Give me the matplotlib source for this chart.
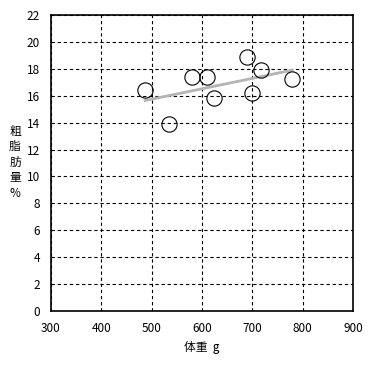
import matplotlib
matplotlib.use("Agg")
import matplotlib.pyplot as plt
import numpy as np

plt.rcParams['font.family'] = ['Noto Sans CJK JP', 'DejaVu Sans']

weight = [487, 535, 580, 610, 624, 690, 700, 718, 779]
fat = [16.4, 13.9, 17.4, 17.4, 15.8, 18.9, 16.2, 17.9, 17.25]

fig = plt.figure(figsize=(3.71, 3.67), dpi=100)
ax = fig.add_axes([51/371, 56/367, 302/371, 296/367])

ax.set_xlim(300, 900)
ax.set_ylim(0, 22)
ax.set_xticks(range(300, 901, 100))
ax.set_yticks(range(0, 23, 2))
ax.grid(True, color='black', linestyle=(0, (3, 2.5)), linewidth=0.8)
ax.set_axisbelow(True)

x = np.array(weight, dtype=float)
y = np.array(fat, dtype=float)
m, b = np.polyfit(x, y, 1)
xs = np.array([x.min(), x.max()])
ax.plot(xs, m * xs + b, color='#b4b4b4', linewidth=2, zorder=2)

ax.plot(weight, fat, linestyle='none', marker='o', markersize=11,
        markerfacecolor='none', markeredgecolor='black', markeredgewidth=0.8, zorder=3)

for s in ax.spines.values():
    s.set_linewidth(1.2)
    s.set_color('black')
ax.tick_params(length=0, pad=8, labelsize=8.5)

ax.set_xlabel('体重  g', fontsize=8.5, labelpad=4)
fig.text(15/371, 1 - 162/367, '粗\n脂\n肪\n量\n%', fontsize=8.5, ha='center', va='center', linespacing=1.25)

fig.savefig('out.png', dpi=100)
